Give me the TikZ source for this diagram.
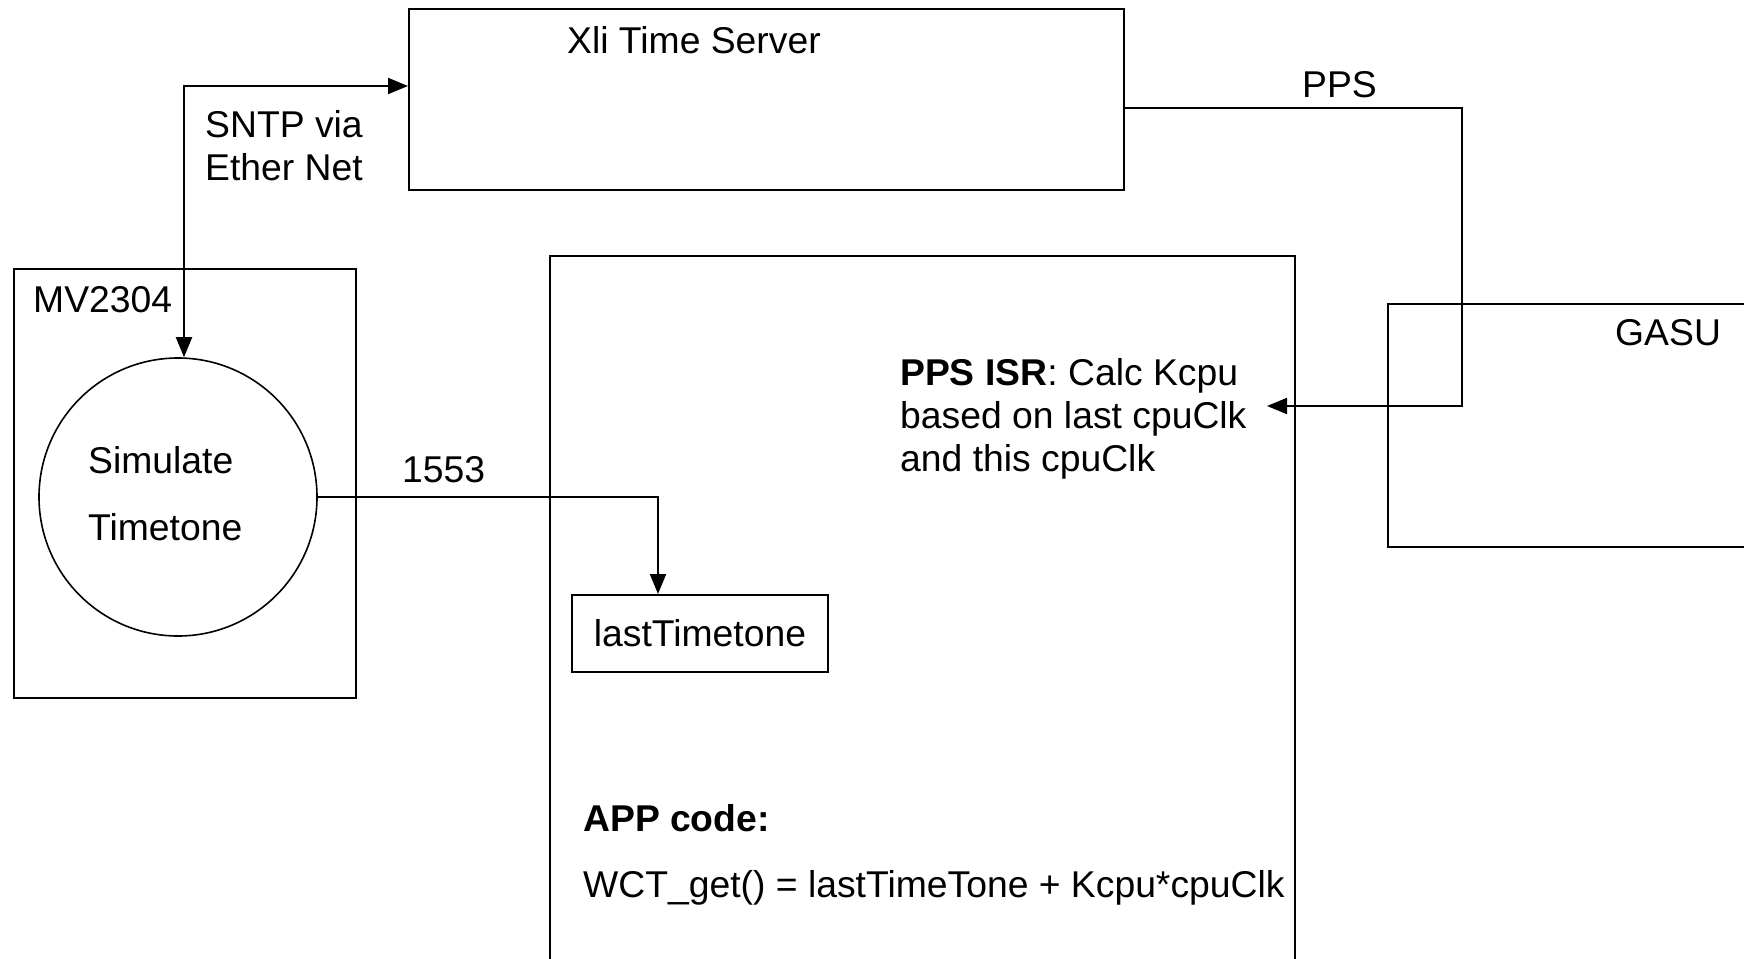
\documentclass[tikz,border=0pt]{standalone}
\usepackage{fontspec}
\setmainfont{Liberation Sans}
\usetikzlibrary{arrows.meta}
\begin{document}
\begin{tikzpicture}[x=1pt,y=-1pt,
  box/.style={draw, line width=2pt, anchor=north west, inner sep=0pt},
  lbl/.style={anchor=base west, inner sep=0pt, font=\fontsize{37.3}{43}\selectfont},
  conn/.style={line width=2pt},
  tipend/.style={-{Triangle[length=20pt,width=16pt]}},
  tipboth/.style={{Triangle[length=20pt,width=16pt]}-{Triangle[length=20pt,width=16pt]}}]
\useasboundingbox (0,0) rectangle (1744,958);
\clip (0,0) rectangle (1744,958);
% boxes
\node[box, minimum width=715, minimum height=181] (xli) at (408,8) {};
\node[box, minimum width=342, minimum height=429] (mv) at (13,268) {};
\node[box, minimum width=745, minimum height=760] (app) at (549,255) {};
\node[box, minimum width=420, minimum height=243] (gasu) at (1387,303) {};
\node[box, minimum width=256, minimum height=77, font=\fontsize{37.3}{43}\selectfont] (last) at (571,594) {lastTimetone};
\node[draw, circle, line width=1.6pt, minimum size=278, inner sep=0pt] (sim) at (178,497) {};
% texts
\node[lbl] (xlit) at (567,54) {Xli Time Server};
\node[lbl] (ppst) at (1302,97) {PPS};
\node[lbl] (sntp1) at (205,137) {SNTP via};
\node[lbl] (sntp2) at (205,180) {Ether Net};
\node[lbl] (mvt) at (33,312) {MV2304};
\node[lbl] (simt1) at (88,473) {Simulate};
\node[lbl] (simt2) at (88,540) {Timetone};
\node[lbl] (n1553) at (402,482) {1553};
\node[lbl] (isr1) at (900,385) {\textbf{PPS ISR}: Calc Kcpu};
\node[lbl] (isr2) at (900,428) {based on last cpuClk};
\node[lbl] (isr3) at (900,471) {and this cpuClk};
\node[lbl] (appt) at (583,831) {\textbf{APP code:}};
\node[lbl] (wct) at (583,897) {WCT\_get() = lastTimeTone + Kcpu*cpuClk};
\node[lbl] (gasut) at (1615,345) {GASU};
% connectors
\coordinate (sntpturn) at (184,86);
\coordinate (ppsturn) at (1462,108);
\coordinate (ppsend) at (1267,406);
\draw[conn, tipboth] (xli.west |- sntpturn) -| ([xshift=6pt]sim.north);
\draw[conn, tipend] (sim.east) -| ([xshift=87pt]last.north west);
\draw[conn, tipend] (xli.east |- ppsturn) -| (ppsturn |- ppsend) -- (ppsend);
\end{tikzpicture}
\end{document}
